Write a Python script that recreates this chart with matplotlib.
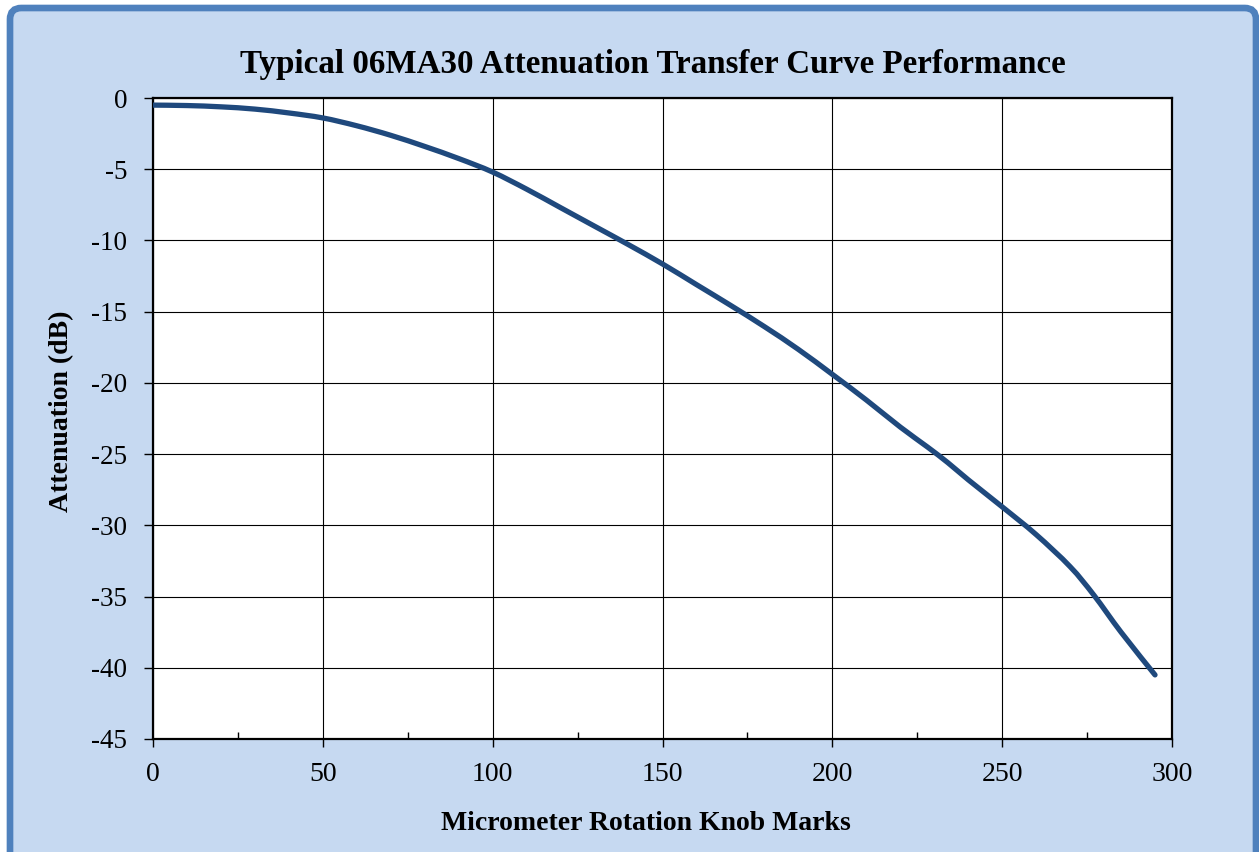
import matplotlib
matplotlib.use("Agg")
import matplotlib.pyplot as plt
from matplotlib.patches import FancyBboxPatch, PathPatch
from matplotlib.path import Path
from matplotlib.ticker import MultipleLocator
import numpy as np

# Data
knob_marks = [0, 10, 20, 30, 40, 50, 60, 70, 80, 90, 100, 110, 120, 130, 140,
              150, 160, 170, 180, 190, 200, 210, 220, 228, 234, 240, 250, 260,
              270, 277, 285, 295]
attenuation_db = [-0.50, -0.53, -0.62, -0.78, -1.05, -1.40, -1.95, -2.62,
                  -3.40, -4.25, -5.20, -6.40, -7.70, -9.00, -10.30, -11.65,
                  -13.10, -14.55, -16.05, -17.65, -19.40, -21.20, -23.10, -24.50,
                  -25.60, -26.80, -28.70, -30.65, -32.90, -34.90, -37.50, -40.50]

title = "Typical 06MA30 Attenuation Transfer Curve Performance"
xlabel = "Micrometer Rotation Knob Marks"
ylabel = "Attenuation (dB)"
x_ticks = [0, 50, 100, 150, 200, 250, 300]
y_ticks = [0, -5, -10, -15, -20, -25, -30, -35, -40, -45]

W, H = 1259, 852
fig = plt.figure(figsize=(W / 100, H / 100), dpi=100, facecolor="white")

serif = ["Liberation Serif", "DejaVu Serif"]

# Background panel with rounded blue border
panel = FancyBboxPatch((10 / W, -20 / H), (1246 / W), (H + 12) / H,
                       boxstyle="round,pad=0,rounding_size=0.009",
                       transform=fig.transFigure, facecolor="#c6d9f1",
                       edgecolor="#4f81bd", linewidth=4.8, zorder=-10,
                       mutation_aspect=W / H)
fig.patches.append(panel)

ax = fig.add_axes([153 / W, 1 - 739 / H, (1172 - 153) / W, (739 - 98) / H])
ax.set_zorder(5)
ax.set_facecolor("white")

# Smoothed line (Excel-style Bezier smoothing through the data points)
px = np.asarray(knob_marks, float)
py = np.asarray(attenuation_db, float)
n = len(px)
verts = [(px[0], py[0])]
codes = [Path.MOVETO]
for i in range(n - 1):
    i0 = max(i - 1, 0)
    i3 = min(i + 2, n - 1)
    c1 = (px[i] + (px[i + 1] - px[i0]) / 6.0, py[i] + (py[i + 1] - py[i0]) / 6.0)
    c2 = (px[i + 1] - (px[i3] - px[i]) / 6.0, py[i + 1] - (py[i3] - py[i]) / 6.0)
    verts += [c1, c2, (px[i + 1], py[i + 1])]
    codes += [Path.CURVE4, Path.CURVE4, Path.CURVE4]
curve = PathPatch(Path(verts, codes), facecolor="none", edgecolor="#1f497d",
                  linewidth=3.8, capstyle="round", joinstyle="round", zorder=3)
ax.add_patch(curve)

ax.set_xlim(0, 300)
ax.set_ylim(-45, 0)
ax.set_xticks(x_ticks)
ax.set_yticks(y_ticks)
ax.xaxis.set_minor_locator(MultipleLocator(25))
ax.set_xticklabels([str(v) for v in x_ticks])
ax.set_yticklabels([str(v) for v in y_ticks])

ax.grid(True, which="major", color="black", linewidth=0.8)
ax.set_axisbelow(True)

for sp in ax.spines.values():
    sp.set_linewidth(1.6)
    sp.set_color("black")

ax.tick_params(axis="x", which="major", direction="out", length=5.5, width=1,
               pad=11, labelsize=20)
ax.tick_params(axis="x", which="minor", direction="in", length=5, width=1)
ax.tick_params(axis="y", which="major", direction="out", length=6.5, width=1,
               pad=12, labelsize=19.5)
for lbl in ax.get_xticklabels() + ax.get_yticklabels():
    lbl.set_fontfamily(serif)

fig.text(653 / W, 1 - 65 / H, title, ha="center", va="center",
         fontsize=23.8, fontweight="bold", family=serif, zorder=6)
fig.text(646 / W, 1 - 824 / H, xlabel, ha="center", va="center",
         fontsize=20, fontweight="bold", family=serif, zorder=6)
fig.text(62 / W, 1 - 411 / H, ylabel, ha="center", va="center", rotation=90,
         fontsize=20, fontweight="bold", family=serif, zorder=6)

fig.savefig("out.png", dpi=100, facecolor=fig.get_facecolor())
